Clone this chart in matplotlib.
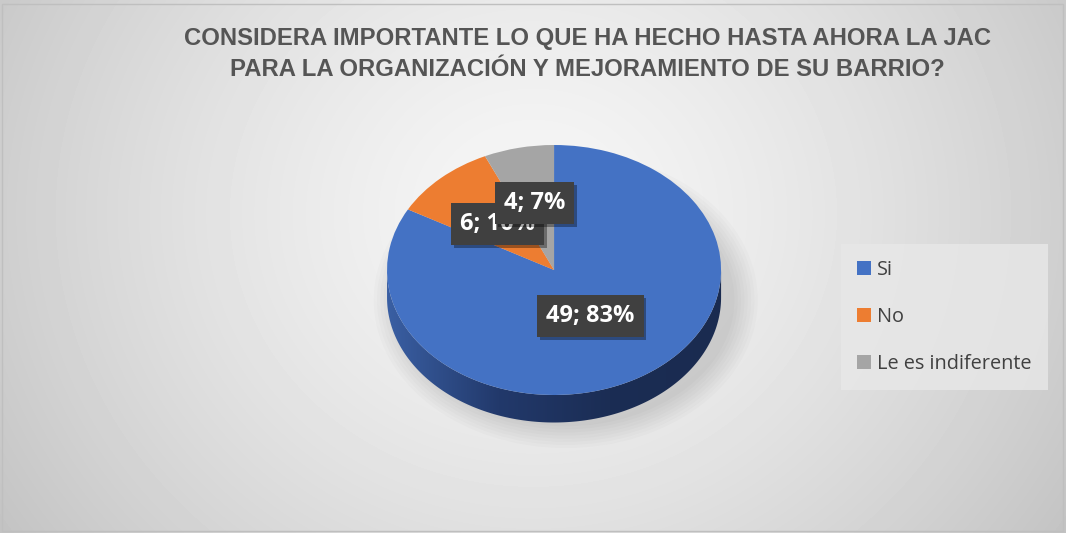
import matplotlib
matplotlib.use('agg')
import matplotlib.pyplot as plt
import matplotlib.patheffects as pe
import numpy as np
from matplotlib.patches import Wedge, Polygon, Rectangle, Ellipse
from matplotlib.colors import LinearSegmentedColormap

categories = ["Si", "No", "Le es indiferente"]
counts = [49, 6, 4]
pct_labels = ["49; 83%", "6; 10%", "4; 7%"]
colors = ["#4472c4", "#ed7d31", "#a5a5a5"]
title = ("CONSIDERA IMPORTANTE LO QUE HA HECHO HASTA AHORA LA JAC\n"
         "PARA LA ORGANIZACIÓN Y MEJORAMIENTO DE SU BARRIO?")

W, H = 1066, 533
fig = plt.figure(figsize=(W / 100, H / 100), dpi=100)

# background: soft radial gray
bg = fig.add_axes([0, 0, 1, 1])
yy, xx = np.mgrid[0:H, 0:W]
r = np.sqrt(((xx - W * 0.5) / (W * 0.5)) ** 2 + ((yy - H * 0.4) / (H * 0.9)) ** 2)
shade = 0.965 - 0.155 * r ** 1.4
bg.imshow(shade, cmap="gray", vmin=0, vmax=1, extent=[0, W, 0, H], origin="upper", aspect="auto")
bg.add_patch(Rectangle((2, 2), W - 5, H - 6, fill=False, edgecolor="#bfbfbf", lw=1))
bg.set_xlim(0, W)
bg.set_ylim(0, H)
bg.axis("off")

fig.text(0.551, 0.898, title, ha="center", va="center", fontsize=17.2,
         fontweight="bold", color="#555555", family="Liberation Sans",
         linespacing=1.45)

# pie axes: unit circle stretched to the 3D ellipse
ax = fig.add_axes([0.3474, 0.1651, 0.3447, 0.5863])
ax.set_xlim(-1.1, 1.1)
ax.set_ylim(-1.4, 1.1)
ax.axis("off")
depth = 0.22

# shadow
for k in range(8):
    ax.add_patch(Ellipse((0.07, -depth - 0.02), 2.02 + k * 0.04, 2.02 + k * 0.05,
                         color="#000000", alpha=0.016, lw=0, zorder=1, clip_on=False))

# side wall with left-right gradient
t = np.linspace(np.pi, 2 * np.pi, 200)
top_edge = np.column_stack([np.cos(t), np.sin(t)])
bot_edge = np.column_stack([np.cos(t[::-1]), np.sin(t[::-1]) - depth])
side = Polygon(np.vstack([top_edge, bot_edge]), closed=True, lw=0, zorder=2,
               facecolor="none")
ax.add_patch(side)
side_cmap = LinearSegmentedColormap.from_list("side", ["#3a5fa3", "#22396b", "#1b2d54", "#1a2b50"])
grad = np.linspace(0, 1, 256).reshape(1, -1)
im = ax.imshow(grad, cmap=side_cmap, extent=[-1, 1, -1 - depth, 0], aspect="auto", zorder=2)
im.set_clip_path(side)

# top face, clockwise from 12 o'clock
total = sum(counts)
start = 90.0
mids = []
for c, col in zip(counts, colors):
    sweep = 360.0 * c / total
    ax.add_patch(Wedge((0, 0), 1.0, start - sweep, start, facecolor=col, lw=0, zorder=3))
    mids.append(np.deg2rad(start - sweep / 2))
    start -= sweep

# data labels
label_r = [0.43, 0.50, 0.55]
for i, (lab, m) in enumerate(zip(pct_labels, mids)):
    x, y = label_r[i] * np.cos(m), label_r[i] * np.sin(m)
    txt = ax.text(x, y, lab, ha="center", va="center", fontsize=17, fontweight="bold",
                  color="white", family="Open Sans", zorder=5 + i,
                  bbox=dict(boxstyle="square,pad=0.38", facecolor="#404040",
                            edgecolor="none"))
    txt.get_bbox_patch().set_path_effects(
        [pe.SimplePatchShadow(offset=(2, -2), shadow_rgbFace="#000000", alpha=0.35), pe.Normal()])

# legend
handles = [Rectangle((0, 0), 1, 1, facecolor=c, edgecolor="none") for c in colors]
leg = fig.legend(handles, categories, loc="center left", bbox_to_anchor=(0.780, 0.405),
                 frameon=True, labelspacing=1.35, handlelength=0.7,
                 handleheight=0.7, handletextpad=0.3, borderpad=0.8,
                 prop={"family": "Open Sans", "size": 14.3})
leg.get_frame().set_facecolor("#e8e8e8")
leg.get_frame().set_edgecolor("none")
leg.get_frame().set_alpha(0.8)
leg.get_frame().set_boxstyle("square", pad=0)
for txt in leg.get_texts():
    txt.set_color("#404040")

fig.savefig("out.png", dpi=100)
